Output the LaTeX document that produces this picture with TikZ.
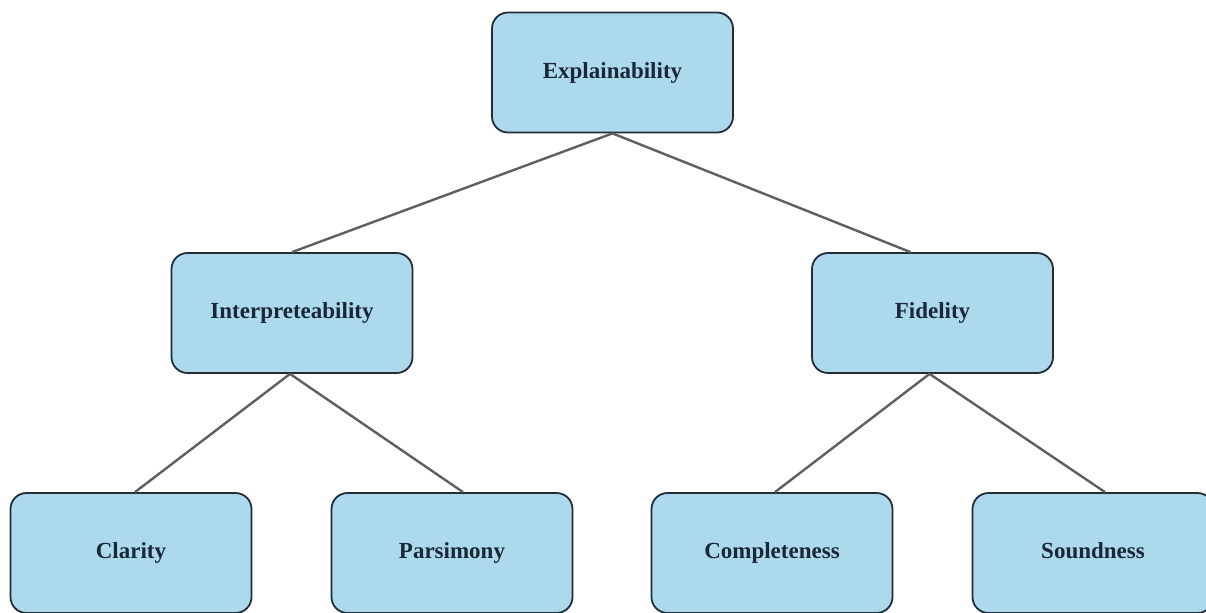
\documentclass[tikz,border=0pt]{standalone}
\usepackage{fontspec}
\setmainfont{Liberation Serif}
\usetikzlibrary{positioning}
\definecolor{boxfill}{RGB}{173,217,237}
\definecolor{boxdraw}{RGB}{35,45,55}
\definecolor{boxtext}{RGB}{25,40,55}
\definecolor{edgegray}{RGB}{95,95,95}
\begin{document}
\begin{tikzpicture}[x=0.5pt,y=-0.5pt,
  box/.style={draw=boxdraw,fill=boxfill,line width=0.9pt,rounded corners=8pt,
    minimum width=120.5pt,minimum height=60pt,inner sep=0pt,
    text height=8pt,text depth=2.5pt,
    font=\fontsize{11.5}{13}\selectfont\bfseries,text=boxtext},
  edge/.style={draw=edgegray,line width=1.2pt}]
\clip (0,0) rectangle (1206,612);

% Top level
\node[box] (expl) at (612.5,72.5) {Explainability};

% Second level
\node[box] (interp) at (292,313) {Interpreteability};
\node[box] (fid) at (932.5,313) {Fidelity};

% Leaves
\foreach \x/\nm/\txt in {131/clar/Clarity,452/pars/Parsimony,
  772/compl/Completeness,1093/sound/Soundness} {
  \node[box] (\nm) at (\x,553) {\txt};
}

% Connectors
\draw[edge] (expl.south) -- (interp.north);
\draw[edge] (expl.south) -- ([xshift=-11pt]fid.north);
\draw[edge] ([xshift=-1pt]interp.south) -- ([xshift=2pt]clar.north);
\draw[edge] ([xshift=-1pt]interp.south) -- ([xshift=5.5pt]pars.north);
\draw[edge] ([xshift=-1.5pt]fid.south) -- ([xshift=1.5pt]compl.north);
\draw[edge] ([xshift=-1.5pt]fid.south) -- ([xshift=6pt]sound.north);
\end{tikzpicture}
\end{document}
